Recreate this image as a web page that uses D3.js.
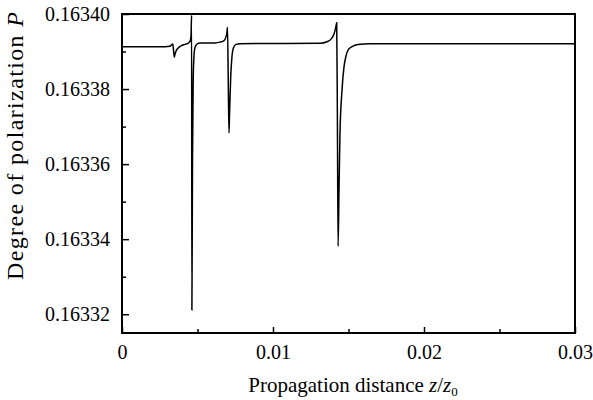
<!DOCTYPE html>
<html>
<head>
<meta charset="utf-8">
<script src="https://cdn.jsdelivr.net/npm/d3@7/dist/d3.min.js"></script>
<style>
  html, body { margin: 0; padding: 0; background: #fff; }
  svg { display: block; }
  text { font-family: "Liberation Serif", "Times New Roman", serif; fill: #000; }
</style>
</head>
<body>
<svg id="chart" width="593" height="400"></svg>
<script>
// ---- data ----
const zValues = [
  0, 0.002848, 0.003179, 0.003311, 0.003364, 0.003411, 0.003464, 0.003510, 0.003576, 0.003709,
  0.003907, 0.004172, 0.004371, 0.004503, 0.004570, 0.004609, 0.004629, 0.004669, 0.004715, 0.004768,
  0.004834, 0.004967, 0.005166, 0.006159, 0.006490, 0.006755, 0.006887, 0.006954, 0.006987, 0.007040,
  0.007086, 0.007119, 0.007199, 0.007285, 0.007371, 0.007550, 0.007815, 0.013113, 0.013576, 0.013841,
  0.014040, 0.014159, 0.014219, 0.014265, 0.014311, 0.014371, 0.014437, 0.014570, 0.014702, 0.014834,
  0.014967, 0.015232, 0.015629, 0.016424, 0.03
];
const pValues = [
  0.1633913, 0.1633913, 0.1633914, 0.1633919, 0.1633920, 0.1633904, 0.1633885, 0.1633893, 0.1633901, 0.1633909,
  0.1633915, 0.1633919, 0.1633922, 0.1633927, 0.1633941, 0.1633997, 0.1633211, 0.1633611, 0.1633824, 0.1633888,
  0.1633911, 0.1633920, 0.1633923, 0.1633923, 0.1633925, 0.1633929, 0.1633939, 0.1633952, 0.1633965, 0.1633811,
  0.1633683, 0.1633731, 0.1633832, 0.1633888, 0.1633909, 0.1633919, 0.1633921, 0.1633922, 0.1633926, 0.1633933,
  0.1633947, 0.1633965, 0.1633977, 0.1633717, 0.1633381, 0.1633531, 0.1633683, 0.1633797, 0.1633859, 0.1633888,
  0.1633904, 0.1633913, 0.1633919, 0.1633921, 0.1633921
];
const xTicks = [0, 0.01, 0.02, 0.03];
const xTickLabels = ["0", "0.01", "0.02", "0.03"];
const xMinorTicks = [0.005, 0.015, 0.025];
const yTicks = [0.16332, 0.16334, 0.16336, 0.16338, 0.16340];
const yTickLabels = ["0.16332", "0.16334", "0.16336", "0.16338", "0.16340"];
const yMinorTicks = [0.16333, 0.16335, 0.16337, 0.16339];
const xDomain = [0, 0.03];
const yDomain = [0.163315, 0.16340];

// ---- layout ----
const plotL = 122, plotR = 575, plotT = 14, plotB = 333;
const svg = d3.select("#chart");

const x = d3.scaleLinear().domain(xDomain).range([plotL, plotR]);
const y = d3.scaleLinear().domain(yDomain).range([plotB, plotT]);

const data = zValues.map((z, i) => ({ z, p: pValues[i] }));

// line
const line = d3.line().x(d => x(d.z)).y(d => y(d.p)).curve(d3.curveMonotoneX);
svg.append("path")
  .datum(data)
  .attr("fill", "none")
  .attr("stroke", "#000")
  .attr("stroke-width", 1.5)
  .attr("d", line);

// axes
const fontSize = 20;
const xAxis = svg.append("g")
  .attr("transform", `translate(0,${plotB})`)
  .call(d3.axisBottom(x).tickValues(xTicks).tickFormat((d, i) => xTickLabels[i])
        .tickSizeInner(-6).tickSizeOuter(0).tickPadding(12));
const xMinor = svg.append("g")
  .attr("transform", `translate(0,${plotB})`)
  .call(d3.axisBottom(x).tickValues(xMinorTicks).tickFormat("")
        .tickSizeInner(-4).tickSizeOuter(0));
const yAxis = svg.append("g")
  .attr("transform", `translate(${plotL},0)`)
  .call(d3.axisLeft(y).tickValues(yTicks).tickFormat((d, i) => yTickLabels[i])
        .tickSizeInner(-7).tickSizeOuter(0).tickPadding(12));
const yMinor = svg.append("g")
  .attr("transform", `translate(${plotL},0)`)
  .call(d3.axisLeft(y).tickValues(yMinorTicks).tickFormat("")
        .tickSizeInner(-4).tickSizeOuter(0));

[xAxis, xMinor, yAxis, yMinor].forEach(g => {
  g.select(".domain").remove();
  g.selectAll("line").attr("stroke", "#000").attr("stroke-width", 1.5);
  g.selectAll("text")
    .attr("font-family", '"Liberation Serif", "Times New Roman", serif')
    .attr("font-size", fontSize)
    .attr("fill", "#000");
});

// frame
svg.append("rect")
  .attr("x", plotL).attr("y", plotT)
  .attr("width", plotR - plotL).attr("height", plotB - plotT)
  .attr("fill", "none").attr("stroke", "#000").attr("stroke-width", 2);

// x title
const xt = svg.append("text")
  .attr("x", 353).attr("y", 392)
  .attr("text-anchor", "middle")
  .attr("font-size", 21);
xt.append("tspan").text("Propagation distance ");
xt.append("tspan").attr("font-style", "italic").text("z");
xt.append("tspan").text("/");
xt.append("tspan").attr("font-style", "italic").text("z");
xt.append("tspan").attr("font-size", 13).attr("dy", 4).text("0");

// y title
const yt = svg.append("text")
  .attr("transform", "translate(23,146) rotate(-90)")
  .attr("text-anchor", "middle")
  .attr("font-size", 24)
  .attr("textLength", 268)
  .attr("lengthAdjust", "spacing");
yt.append("tspan").text("Degree of polarization ");
yt.append("tspan").attr("font-style", "italic").text("P");
</script>
</body>
</html>
